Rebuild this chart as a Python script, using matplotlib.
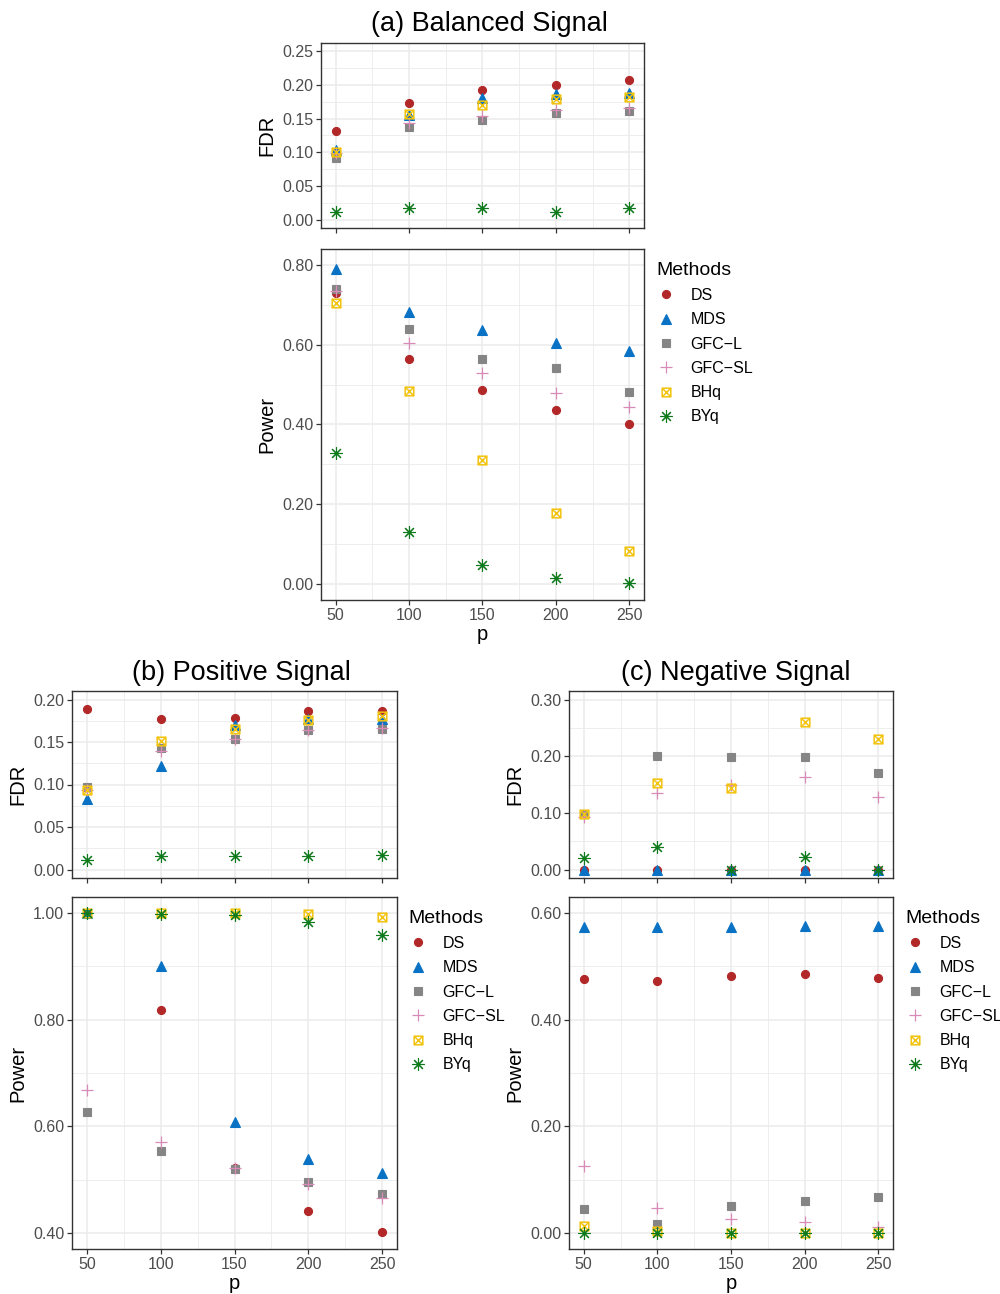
import matplotlib.pyplot as plt
from matplotlib.path import Path
from matplotlib.ticker import MultipleLocator

plt.rcParams['font.family'] = ['Liberation Sans', 'DejaVu Sans']

p = [50, 100, 150, 200, 250]
methods = ['DS', 'MDS', 'GFC-L', 'GFC-SL', 'BHq', 'BYq']

# (a) balanced signal
fdr_a = {
    'DS':     [0.131, 0.174, 0.193, 0.200, 0.208],
    'MDS':    [0.104, 0.155, 0.180, 0.187, 0.188],
    'GFC-L':  [0.092, 0.137, 0.148, 0.159, 0.161],
    'GFC-SL': [0.099, 0.143, 0.154, 0.163, 0.166],
    'BHq':    [0.100, 0.157, 0.171, 0.179, 0.182],
    'BYq':    [0.012, 0.017, 0.017, 0.011, 0.017],
}
power_a = {
    'DS':     [0.730, 0.565, 0.486, 0.437, 0.402],
    'MDS':    [0.790, 0.683, 0.638, 0.605, 0.584],
    'GFC-L':  [0.740, 0.640, 0.565, 0.541, 0.481],
    'GFC-SL': [0.734, 0.605, 0.529, 0.479, 0.443],
    'BHq':    [0.704, 0.484, 0.312, 0.179, 0.083],
    'BYq':    [0.328, 0.130, 0.047, 0.015, 0.003],
}

# (b) positive signal
fdr_b = {
    'DS':     [0.189, 0.177, 0.178, 0.186, 0.187],
    'MDS':    [0.083, 0.122, 0.170, 0.177, 0.177],
    'GFC-L':  [0.097, 0.143, 0.154, 0.164, 0.165],
    'GFC-SL': [0.093, 0.140, 0.154, 0.164, 0.166],
    'BHq':    [0.094, 0.151, 0.165, 0.176, 0.181],
    'BYq':    [0.0115, 0.016, 0.016, 0.016, 0.0166],
}
power_b = {
    'DS':     [1.000, 0.819, 0.521, 0.442, 0.402],
    'MDS':    [1.000, 0.901, 0.608, 0.538, 0.512],
    'GFC-L':  [0.627, 0.553, 0.520, 0.496, 0.474],
    'GFC-SL': [0.669, 0.571, 0.521, 0.491, 0.465],
    'BHq':    [1.000, 1.000, 1.000, 0.999, 0.993],
    'BYq':    [1.000, 0.999, 0.996, 0.983, 0.959],
}

# (c) negative signal
fdr_c = {
    'DS':     [0.000, 0.000, 0.000, 0.000, 0.000],
    'MDS':    [0.000, 0.000, 0.000, 0.000, 0.000],
    'GFC-L':  [0.098, 0.200, 0.198, 0.198, 0.170],
    'GFC-SL': [0.093, 0.135, 0.149, 0.164, 0.128],
    'BHq':    [0.098, 0.153, 0.144, 0.261, 0.230],
    'BYq':    [0.020, 0.039, 0.000, 0.022, 0.000],
}
power_c = {
    'DS':     [0.477, 0.473, 0.481, 0.486, 0.479],
    'MDS':    [0.573, 0.574, 0.574, 0.576, 0.576],
    'GFC-L':  [0.045, 0.017, 0.051, 0.060, 0.067],
    'GFC-SL': [0.126, 0.046, 0.027, 0.020, 0.012],
    'BHq':    [0.013, 0.003, 0.000, 0.000, 0.000],
    'BYq':    [0.000, 0.000, 0.000, 0.000, 0.000],
}

# square with a cross inside (like R pch 7)
boxed_x = Path(
    [(-1, -1), (1, -1), (1, 1), (-1, 1), (-1, -1), (-1, -1), (1, 1), (-1, 1), (1, -1)],
    [Path.MOVETO, Path.LINETO, Path.LINETO, Path.LINETO, Path.CLOSEPOLY,
     Path.MOVETO, Path.LINETO, Path.MOVETO, Path.LINETO],
)

style = {
    'DS':     dict(marker='o', color='#B22828', ms=5.8),
    'MDS':    dict(marker='^', color='#0A72C4', ms=7.0),
    'GFC-L':  dict(marker='s', color='#858585', ms=5.6),
    'GFC-SL': dict(marker='+', color='#D98BB8', ms=9.0, mew=0.9),
    'BHq':    dict(marker=boxed_x, color='#F2C40F', ms=6.2, mew=1.1, mfc='none'),
    'BYq':    dict(marker=(8, 2, 0), color='#0E7A1C', ms=9.0, mew=0.8),
}

W, H = 1000, 1294
fig = plt.figure(figsize=(W / 100, H / 100), dpi=100)


def add_panel(l, t, r, b):
    return fig.add_axes([l / W, 1 - b / H, (r - l) / W, (b - t) / H])


def draw(ax, data, ylabel, ylim, ystep, show_x):
    for m in methods:
        s = dict(style[m])
        ax.plot(p, data[m], linestyle='none', label=m.replace('-', '\u2212'),
                zorder=3, marker=s.pop('marker'), color=s.pop('color'),
                markersize=s.pop('ms'), markeredgewidth=s.pop('mew', 0.8),
                markerfacecolor=s.pop('mfc', None))
    ax.set_xlim(40, 260)
    ax.set_ylim(*ylim)
    ax.xaxis.set_major_locator(MultipleLocator(50))
    ax.xaxis.set_minor_locator(MultipleLocator(25))
    ax.yaxis.set_major_locator(MultipleLocator(ystep))
    ax.yaxis.set_minor_locator(MultipleLocator(ystep / 2))
    ax.yaxis.set_major_formatter(lambda v, pos: f'{v:.2f}')
    ax.grid(which='major', color='#EBEBEB', lw=1.1, zorder=0)
    ax.grid(which='minor', color='#EBEBEB', lw=0.6, zorder=0)
    ax.set_axisbelow(True)
    ax.tick_params(which='major', length=3.5, width=0.9, color='#333333',
                   labelsize=11.5, labelcolor='#4D4D4D', pad=2)
    ax.tick_params(which='minor', length=0)
    for sp in ax.spines.values():
        sp.set_color('#333333')
        sp.set_linewidth(1.0)
    ax.set_ylabel(ylabel, fontsize=14.5, labelpad=4)
    if show_x:
        ax.set_xlabel('p', fontsize=14.5, labelpad=2)
    else:
        ax.tick_params(axis='x', labelbottom=False)


def add_legend(ax, x, y):
    fig.legend(*ax.get_legend_handles_labels(), title='Methods',
               loc='upper left', bbox_to_anchor=(x / W, 1 - y / H),
               frameon=False, fontsize=11.5, title_fontsize=14,
               alignment='left', handlelength=1.2, handletextpad=0.9,
               labelspacing=0.58, borderaxespad=0, borderpad=0.3)


# (a) balanced signal
ax = add_panel(321, 43, 644, 228)
draw(ax, fdr_a, 'FDR', (-0.0125, 0.2625), 0.05, False)
ax = add_panel(321, 249, 644, 600)
draw(ax, power_a, 'Power', (-0.04, 0.84), 0.2, True)
add_legend(ax, 652, 257)

# (b) positive signal
ax = add_panel(72, 691, 397, 878)
draw(ax, fdr_b, 'FDR', (-0.01, 0.21), 0.05, False)
ax = add_panel(72, 897, 397, 1249)
draw(ax, power_b, 'Power', (0.37, 1.03), 0.2, True)
add_legend(ax, 404, 905)

# (c) negative signal
ax = add_panel(569, 691, 893, 878)
draw(ax, fdr_c, 'FDR', (-0.015, 0.315), 0.1, False)
ax = add_panel(569, 897, 893, 1249)
draw(ax, power_c, 'Power', (-0.03, 0.63), 0.2, True)
add_legend(ax, 901, 905)

titles = [(489, 31, '(a) Balanced Signal'),
          (241, 680, '(b) Positive Signal'),
          (736, 680, '(c) Negative Signal')]
for x, yb, txt in titles:
    fig.text(x / W, 1 - yb / H, txt, ha='center', va='baseline', fontsize=19.5)

fig.savefig('out.png', dpi=100)
